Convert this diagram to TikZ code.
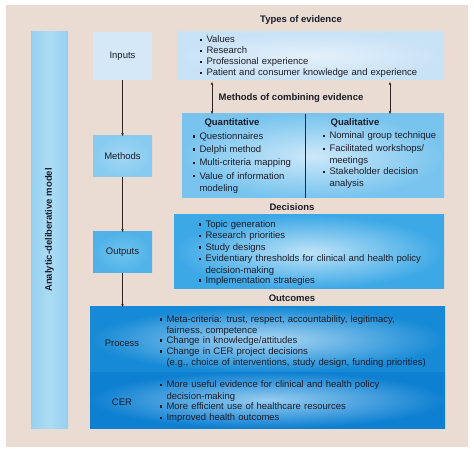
\documentclass[tikz,border=0pt]{standalone}
\usepackage{fontspec}
\setmainfont{Liberation Sans}
\usetikzlibrary{arrows.meta}
\definecolor{bgc}{RGB}{234,220,211}
\definecolor{txt}{RGB}{28,28,40}
\definecolor{linec}{RGB}{45,35,35}
\newcommand\bsq{\raisebox{1.7pt}{\rule{2.4pt}{2.4pt}}}
\newcommand\bitem[1]{\par\noindent\makebox[6.5pt][l]{\bsq}\parbox[t]{\dimexpr\linewidth-6.5pt\relax}{\raggedright #1}}
\tikzset{
  box/.style={rectangle, inner sep=0pt, outer sep=0pt, draw=none, text=txt,
    font=\fontsize{9.5}{11}\selectfont},
  bullist/.style={anchor=north west, inner sep=0pt, outer sep=0pt, text width=#1,
    align=left, text=txt},
  title/.style={anchor=base, inner sep=0pt, text=txt, font=\fontsize{9.5}{11}\selectfont\bfseries},
  arr/.style={draw=linec, line width=0.5pt, -{Stealth[length=3.2pt,width=2.6pt]}},
  darr/.style={draw=linec, line width=0.5pt, {Stealth[length=3.2pt,width=2.6pt]}-{Stealth[length=3.2pt,width=2.6pt]}}
}
\begin{document}
\begin{tikzpicture}[x=1pt,y=-1pt]
\useasboundingbox (0,0) rectangle (474,454);
\fill[white] (0,0) rectangle (474,454);
\node[box, fill=bgc, minimum width=462pt, minimum height=442pt] (bg) at (237,226) {};

% left bar
\node[box, minimum width=37pt, minimum height=396pt, left color={rgb,255:red,150;green,208;blue,240}, right color={rgb,255:red,150;green,208;blue,240}, middle color={rgb,255:red,172;green,220;blue,245}] (bar) at (49.5,230) {};
\node[title, anchor=center, rotate=90] (barlabel) at (bar.center) {Analytic-deliberative model};

% left column boxes
\node[box, minimum width=59pt, minimum height=48pt, fill={rgb,255:red,212;green,232;blue,248}] (inputs) at (122.5,56) {Inputs};
\node[box, minimum width=59pt, minimum height=41pt, shading=radial, inner color={rgb,255:red,160;green,214;blue,243}, outer color={rgb,255:red,135;green,203;blue,240}] (methods) at (122.5,156.5) {Methods};
\node[box, minimum width=59pt, minimum height=41pt, shading=radial, inner color={rgb,255:red,110;green,195;blue,238}, outer color={rgb,255:red,80;green,178;blue,232}] (outputs) at (122.5,252.5) {Outputs};

% right boxes
\node[box, minimum width=267pt, minimum height=48pt, shading=radial, inner color={rgb,255:red,228;green,240;blue,250}, outer color={rgb,255:red,200;green,226;blue,246}] (types) at (310.5,56) {};
\node[box, minimum width=262pt, minimum height=84pt, shading=radial, inner color={rgb,255:red,205;green,232;blue,249}, outer color={rgb,255:red,120;green,196;blue,238}] (comb) at (313,156) {};
\node[box, minimum width=270pt, minimum height=74pt, shading=radial, inner color={rgb,255:red,190;green,227;blue,248}, outer color={rgb,255:red,60;green,168;blue,230}] (dec) at (309,252) {};
\node[box, minimum width=355pt, minimum height=65pt, shading=radial, inner color={rgb,255:red,170;green,214;blue,243}, outer color={rgb,255:red,22;green,138;blue,214}] (process) at (267.5,339.5) {};
\node[box, minimum width=355pt, minimum height=56pt, shading=radial, inner color={rgb,255:red,150;green,204;blue,240}, outer color={rgb,255:red,14;green,128;blue,210}] (cer) at (267.5,400) {};

% labels inside outcome boxes
\node[box] (processlabel) at (122,343) {Process};
\node[box] (cerlabel) at (122,402) {CER};

% titles
\node[title] (ttypes) at (301,23) {Types of evidence};
\node[title] (tcomb) at (291,100.6) {Methods of combining evidence};
\node[title] (tdec) at (292,211) {Decisions};
\node[title] (tout) at (292,302) {Outcomes};
\node[title] (tquant) at (232,126) {Quantitative};
\node[title] (tqual) at (355,126) {Qualitative};

% divider
\draw[draw=linec, line width=0.5pt] (305,0 |- comb.north) -- (305,0 |- comb.south);

% lists
\node[bullist=240pt, font=\fontsize{9.5}{11}\selectfont] (ltypes) at (200,31.8) {%
\bitem{Values}
\bitem{Research}
\bitem{Professional experience}
\bitem{Patient and consumer knowledge and experience}};

\node[bullist=110pt, font=\fontsize{9.5}{12.3}\selectfont] (lquant) at (193,127) {%
\bitem{Questionnaires}\par\vspace{1pt}
\bitem{Delphi method}\par\vspace{1pt}
\bitem{Multi-criteria mapping}\par\vspace{1pt}
\bitem{Value of information\\ modeling}};

\node[bullist=115pt, font=\fontsize{9.5}{12}\selectfont] (lqual) at (323,127) {%
\bitem{Nominal group technique}\par\vspace{1pt}
\bitem{Facilitated workshops/\\ meetings}\par\vspace{1pt}
\bitem{Stakeholder decision\\ analysis}};

\node[bullist=240pt, font=\fontsize{9.5}{11.5}\selectfont] (ldec) at (199,216) {%
\bitem{Topic generation}
\bitem{Research priorities}
\bitem{Study designs}
\bitem{Evidentiary thresholds for clinical and health policy\\ decision-making}
\bitem{Implementation strategies}};

\node[bullist=280pt, font=\fontsize{9.5}{11}\selectfont] (lproc) at (160,311.6) {%
\bitem{Meta-criteria: trust, respect, accountability, legitimacy,\\ fairness, competence}
\bitem{Change in knowledge/attitudes}
\bitem{Change in CER project decisions\\ (e.g., choice of interventions, study design, funding priorities)}};

\node[bullist=280pt, font=\fontsize{9.5}{11.7}\selectfont] (lcer) at (160,376) {%
\bitem{More useful evidence for clinical and health policy\\ decision-making}
\bitem{More efficient use of healthcare resources}
\bitem{Improved health outcomes}};

% arrows
\draw[arr] (inputs.south) -- (methods.north);
\draw[arr] (methods.south) -- (outputs.north);
\draw[arr] (outputs.south) -- (outputs.south |- process.north);
\draw[darr, shorten <=2pt] (212,0 |- types.south) -- (212,0 |- comb.north);
\draw[darr, shorten <=2pt] (390,0 |- types.south) -- (390,0 |- comb.north);
\end{tikzpicture}
\end{document}
